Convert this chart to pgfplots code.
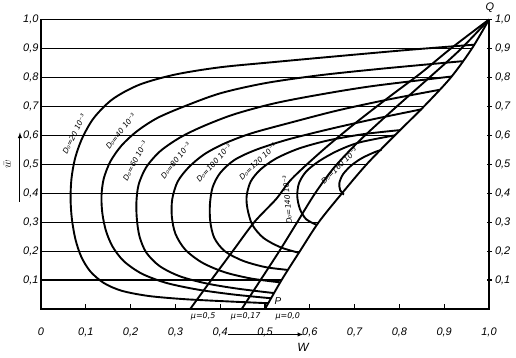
\documentclass[border=0pt]{standalone}
\usepackage{pgfplots}
\pgfplotsset{compat=1.18}
\usepackage{fontspec}
\setmainfont{Liberation Sans}
\newfontfamily\lblfont{DejaVu Sans}
\begin{document}
\begin{tikzpicture}
\pgfplotsset{
  base/.style={
    at={(0,0)}, anchor=origin,
    width=448bp, height=289.5bp, scale only axis,
    xmin=0, xmax=1, ymin=0, ymax=1,
    clip=false,
  },
  crv/.style={line width=1.9pt, smooth},
  grd/.style={line width=1.2pt},
}
\begin{axis}[base,
  axis line style={line width=1.3pt},
  xtick={0,0.1,0.2,0.3,0.4,0.5,0.6,0.7,0.8,0.9,1.0},
  xticklabels={0,{0,1},{0,2},{0,3},{0,4},{0,5},{0,6},{0,7},{0,8},{0,9},{1,0}},
  xtick pos=lower, xtick align=inside,
  major tick length=5bp,
  xtick style={line width=1.2pt, black},
  xticklabel style={font=\itshape\fontsize{11}{12}\selectfont, yshift=-15bp},
  ytick={0.1,0.2,0.3,0.4,0.5,0.6,0.7,0.8,0.9,1.0},
  yticklabels={{0,1},{0,2},{0,3},{0,4},{0,5},{0,6},{0,7},{0,8},{0,9},{1,0}},
  ytick pos=left, ytick style={draw=none},
  yticklabel style={font=\itshape\fontsize{11}{12}\selectfont, xshift=1bp},
  every axis plot/.append style={black},
]
% horizontal grid lines up to the boundary curve
\addplot[grd] coordinates {(0,0.1) (0.537,0.1)};
\addplot[grd] coordinates {(0,0.2) (0.578,0.2)};
\addplot[grd] coordinates {(0,0.3) (0.620,0.3)};
\addplot[grd] coordinates {(0,0.4) (0.672,0.4)};
\addplot[grd] coordinates {(0,0.5) (0.727,0.5)};
\addplot[grd] coordinates {(0,0.6) (0.790,0.6)};
\addplot[grd] coordinates {(0,0.7) (0.855,0.7)};
\addplot[grd] coordinates {(0,0.8) (0.915,0.8)};
\addplot[grd] coordinates {(0,0.9) (0.962,0.9)};
% mu curves (mu = 0.0, 0.17, 0.5)
\addplot[crv] coordinates {(0.500,0) (0.537,0.1) (0.578,0.2) (0.620,0.3) (0.672,0.4) (0.727,0.5) (0.790,0.6) (0.855,0.7) (0.915,0.8) (0.962,0.9) (1,1)};
\addplot[crv] coordinates {(0.448,0) (0.490,0.1) (0.532,0.2) (0.572,0.3) (0.612,0.4) (0.655,0.49) (0.710,0.58) (0.780,0.68) (0.860,0.79) (0.935,0.895) (1,1)};
\addplot[crv] coordinates {(0.333,0) (0.380,0.1) (0.428,0.2) (0.476,0.3) (0.525,0.38) (0.560,0.45) (0.630,0.55) (0.700,0.64) (0.775,0.73) (0.848,0.815) (0.915,0.9) (1,1)};
% D0 curves
\addplot[crv] coordinates {(0.507,0.02) (0.42,0.026) (0.32,0.034) (0.24,0.045) (0.18,0.063) (0.14,0.09) (0.11,0.13) (0.09,0.18) (0.077,0.24) (0.069,0.31) (0.066,0.38) (0.068,0.45) (0.076,0.52) (0.092,0.59) (0.118,0.66) (0.16,0.725) (0.22,0.775) (0.30,0.81) (0.40,0.835) (0.52,0.853) (0.66,0.873) (0.82,0.895) (0.967,0.913)};
\addplot[crv] coordinates {(0.514,0.037) (0.43,0.05) (0.35,0.067) (0.28,0.09) (0.225,0.122) (0.185,0.165) (0.16,0.215) (0.145,0.27) (0.137,0.33) (0.135,0.39) (0.14,0.45) (0.155,0.51) (0.18,0.565) (0.215,0.615) (0.26,0.66) (0.32,0.70) (0.40,0.745) (0.50,0.78) (0.62,0.807) (0.76,0.83) (0.941,0.856)};
\addplot[crv] coordinates {(0.52,0.055) (0.44,0.07) (0.37,0.088) (0.31,0.113) (0.265,0.148) (0.235,0.195) (0.22,0.25) (0.214,0.31) (0.213,0.37) (0.218,0.43) (0.235,0.49) (0.266,0.545) (0.31,0.592) (0.36,0.63) (0.43,0.672) (0.52,0.71) (0.62,0.74) (0.74,0.77) (0.916,0.803)};
\addplot[crv] coordinates {(0.534,0.092) (0.47,0.105) (0.41,0.127) (0.36,0.16) (0.322,0.205) (0.30,0.26) (0.292,0.32) (0.293,0.38) (0.305,0.44) (0.33,0.49) (0.365,0.535) (0.41,0.572) (0.47,0.607) (0.56,0.645) (0.66,0.685) (0.77,0.722) (0.889,0.757)};
\addplot[crv] coordinates {(0.551,0.135) (0.50,0.145) (0.45,0.167) (0.41,0.2) (0.387,0.245) (0.378,0.3) (0.377,0.36) (0.383,0.42) (0.40,0.47) (0.432,0.515) (0.48,0.55) (0.55,0.585) (0.64,0.62) (0.74,0.655) (0.85,0.69)};
\addplot[crv] coordinates {(0.576,0.194) (0.535,0.213) (0.497,0.245) (0.472,0.29) (0.461,0.345) (0.459,0.39) (0.468,0.44) (0.49,0.482) (0.525,0.52) (0.575,0.554) (0.64,0.582) (0.72,0.604) (0.802,0.618)};
\addplot[crv] coordinates {(0.616,0.29) (0.592,0.31) (0.578,0.345) (0.572,0.39) (0.576,0.435) (0.592,0.475) (0.62,0.51) (0.66,0.545) (0.71,0.575) (0.79,0.6)};
\addplot[crv] coordinates {(0.676,0.395) (0.668,0.41) (0.666,0.435) (0.674,0.465) (0.692,0.495) (0.715,0.52) (0.742,0.54) (0.76,0.55)};
% labels
\begin{scope}[every node/.style={font=\lblfont\itshape\fontsize{7.5}{8}\selectfont, inner sep=0pt}]
\node[rotate=64] at (axis cs:0.074,0.604) {D₀=20 10⁻³};
\node[rotate=52] at (axis cs:0.178,0.614) {D₀=40 10⁻³};
\node[rotate=62] at (axis cs:0.210,0.512) {D₀=60 10⁻³};
\node[rotate=52] at (axis cs:0.301,0.512) {D₀=80 10⁻³};
\node[rotate=48] at (axis cs:0.386,0.504) {D₀=100 10⁻³};
\node[rotate=44] at (axis cs:0.484,0.509) {D₀=120 10⁻³};
\node[rotate=95] at (axis cs:0.550,0.376) {D₀=140 10⁻³};
\node[rotate=45] at (axis cs:0.666,0.494) {D₀=160 10⁻³};
\end{scope}
\begin{scope}[every node/.style={font=\lblfont\itshape\fontsize{8}{9}\selectfont, inner sep=0pt}]
\node at (axis cs:0.362,-0.026) {μ=0,5};
\node at (axis cs:0.457,-0.026) {μ=0,17};
\node at (axis cs:0.551,-0.026) {μ=0,0};
\end{scope}
\node[font=\itshape\fontsize{10}{12}\selectfont] at (axis cs:0.529,0.028) {P};
\node[font=\itshape\fontsize{11}{12}\selectfont] at (axis cs:1.002,1.04) {Q};
\node[font=\itshape\fontsize{12}{12}\selectfont] at (axis cs:0.585,-0.131) {W};
\draw[-latex, line width=0.9pt] (axis cs:0.417,-0.088) -- (axis cs:0.585,-0.088);
\draw[-latex, line width=1pt] (axis cs:-0.047,0.37) -- (axis cs:-0.047,0.61);
\node[rotate=90, font=\itshape\fontsize{13}{13}\selectfont] at (axis cs:-0.075,0.50) {$\bar{w}$};
\end{axis}
\begin{axis}[base,
  axis x line=none, axis y line*=right,
  axis line style={line width=1.3pt},
  ytick={0.1,0.2,0.3,0.4,0.5,0.6,0.7,0.8,0.9,1.0},
  yticklabels={{0,1},{0,2},{0,3},{0,4},{0,5},{0,6},{0,7},{0,8},{0,9},{1,0}},
  ytick align=center, major tick length=5bp,
  ytick style={line width=1.2pt, black},
  yticklabel style={font=\itshape\fontsize{11}{12}\selectfont},
]
\end{axis}
\pgfresetboundingbox
\path[use as bounding box] (-41bp,-49bp) rectangle (475bp,309bp);
\end{tikzpicture}
\end{document}
